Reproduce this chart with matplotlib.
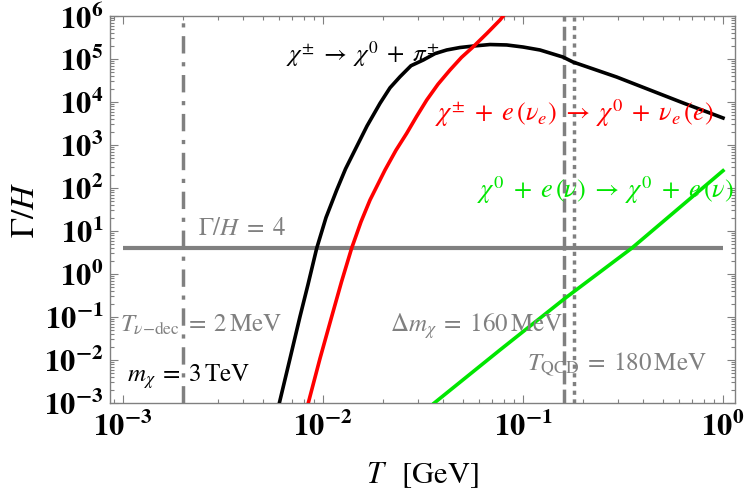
import numpy as np
import matplotlib
matplotlib.use("Agg")
import matplotlib.pyplot as plt
from matplotlib.ticker import LogLocator, FixedLocator, NullFormatter

plt.rcParams['mathtext.fontset'] = 'stix'
plt.rcParams['font.family'] = ['Liberation Serif', 'DejaVu Serif']

# ---- data ----
T_pion = [0.00605, 0.00684, 0.00767, 0.00841, 0.00930, 0.01035, 0.01171, 0.01296, 0.01445,
          0.0166, 0.01928, 0.02163, 0.02427, 0.02754, 0.03172, 0.03631, 0.04154, 0.04842,
          0.05641, 0.0684, 0.08288, 0.1, 0.1216, 0.1585, 0.1778, 0.294, 0.4315, 0.633, 1.0]
G_pion = [1e-3, 0.0108, 0.1016, 0.564, 3.96, 20.5, 89.8, 278, 766,
          2770, 9330, 21400, 38700, 69800, 94800, 133600, 162000, 185000,
          200000, 217000, 212000, 190000, 162000, 111000, 85100, 38100, 19000, 9480, 4250]

T_cc = [0.00844, 0.00966, 0.01105, 0.01237, 0.0139, 0.01549, 0.01718, 0.02042, 0.02317,
        0.02621, 0.02934, 0.033, 0.03758, 0.04315, 0.04926, 0.05641, 0.06607, 0.07674, 0.0803]
G_cc = [1e-3, 0.01084, 0.1016, 0.655, 3.96, 16.4, 52.6, 262, 757,
        1870, 4570, 11100, 25900, 55500, 109000, 193000, 396000, 807000, 1.05e6]

T_nc = [0.036, 0.0767, 0.1622, 0.35, 1.0]
G_nc = [1e-3, 0.0171, 0.272, 4.0, 252]

G_threshold = 4
T_nu_dec = 0.002
dm_chi = 0.16
T_qcd = 0.18

xticks = [1e-3, 1e-2, 1e-1, 1e0]
xtick_labels = [r'$\mathbf{10^{-3}}$', r'$\mathbf{10^{-2}}$', r'$\mathbf{10^{-1}}$', r'$\mathbf{10^{0}}$']
yticks = [10.0**k for k in range(-3, 7)]
ytick_labels = [r'$\mathbf{10^{%d}}$' % k for k in range(-3, 7)]

# ---- figure ----
fig = plt.figure(figsize=(7.44, 4.92), dpi=100)
L, R, B, Tp = 110, 735, 403, 16
ax = fig.add_axes([L / 744, 1 - B / 492, (R - L) / 744, (B - Tp) / 492])
ax.set_xscale('log')
ax.set_yscale('log')
ax.set_xlim(10 ** -3.065, 10 ** 0.06)
ax.set_ylim(1e-3, 1e6)

gray = '#808080'
ax.plot([1e-3, 1.0], [G_threshold, G_threshold], color=gray, lw=3, solid_capstyle='butt', zorder=2)
ax.axvline(T_nu_dec, color=gray, lw=2.5, ls=(0, (5, 2.5, 1.2, 2.5)), zorder=2)
ax.axvline(dm_chi, color=gray, lw=2.5, ls=(0, (4, 1.5)), zorder=2)
ax.axvline(T_qcd, color=gray, lw=2.5, ls=(0, (1.2, 1.3)), zorder=2)

ax.plot(T_pion, G_pion, color='black', lw=2.6, zorder=3, solid_joinstyle='round')
ax.plot(T_cc, G_cc, color='#ff0000', lw=2.6, zorder=3, solid_joinstyle='round')
ax.plot(T_nc, G_nc, color='#00e600', lw=2.6, zorder=3, solid_joinstyle='round')

# ticks
ax.xaxis.set_major_locator(FixedLocator(xticks))
ax.set_xticklabels(xtick_labels)
ax.yaxis.set_major_locator(FixedLocator(yticks))
ax.set_yticklabels(ytick_labels)
ax.xaxis.set_minor_locator(LogLocator(base=10, subs=np.arange(2, 10), numticks=100))
ax.yaxis.set_minor_locator(LogLocator(base=10, subs=np.arange(2, 10), numticks=100))
ax.xaxis.set_minor_formatter(NullFormatter())
ax.yaxis.set_minor_formatter(NullFormatter())
ax.tick_params(which='both', direction='in', top=True, right=True, color=gray, width=0.8)
ax.tick_params(which='major', length=6, labelsize=22, labelcolor='black')
ax.tick_params(which='minor', length=3)
ax.tick_params(axis='x', which='major', pad=7)
ax.tick_params(axis='y', which='major', pad=5)
for s in ax.spines.values():
    s.set_color(gray)
    s.set_linewidth(1.0)

ax.set_xlabel(r'$T\;\;\;[\mathrm{GeV}]$', fontsize=22, labelpad=12)
ax.set_ylabel(r'$\Gamma/H$', fontsize=24, labelpad=2)


def px(x, y):
    return ((x - L) / (R - L), (B - y) / (B - Tp))


def label(x, y, s, color, size=18):
    ax.text(*px(x, y), s, transform=ax.transAxes, color=color, fontsize=size,
            ha='left', va='baseline', zorder=4)


label(286, 62, r'$\chi^{\pm}\;\rightarrow\;\chi^{0}\;+\;\pi^{\pm}$', 'black', 18)
label(435, 121, r'$\chi^{\pm}\;+\;e\,(\nu_e)\;\rightarrow\;\chi^{0}\;+\;\nu_e\,(e)$', '#ff0000', 19)
label(477, 198, r'$\chi^{0}\;+\;e\,(\nu)\;\rightarrow\;\chi^{0}\;+\;e\,(\nu)$', '#00e600', 19)
label(198, 235, r'$\Gamma/H\;=\;4$', gray)
label(120, 332, r'$T_{\nu\mathrm{-dec}}\;=\;2\,\mathrm{MeV}$', gray)
label(127, 382, r'$m_\chi\;=\;3\,\mathrm{TeV}$', 'black')
label(390, 332, r'$\Delta m_\chi\;=\;160\,\mathrm{MeV}$', gray)
label(527, 370, r'$T_{\mathrm{QCD}}\;=\;180\,\mathrm{MeV}$', gray)

fig.savefig('out.png', dpi=100)
